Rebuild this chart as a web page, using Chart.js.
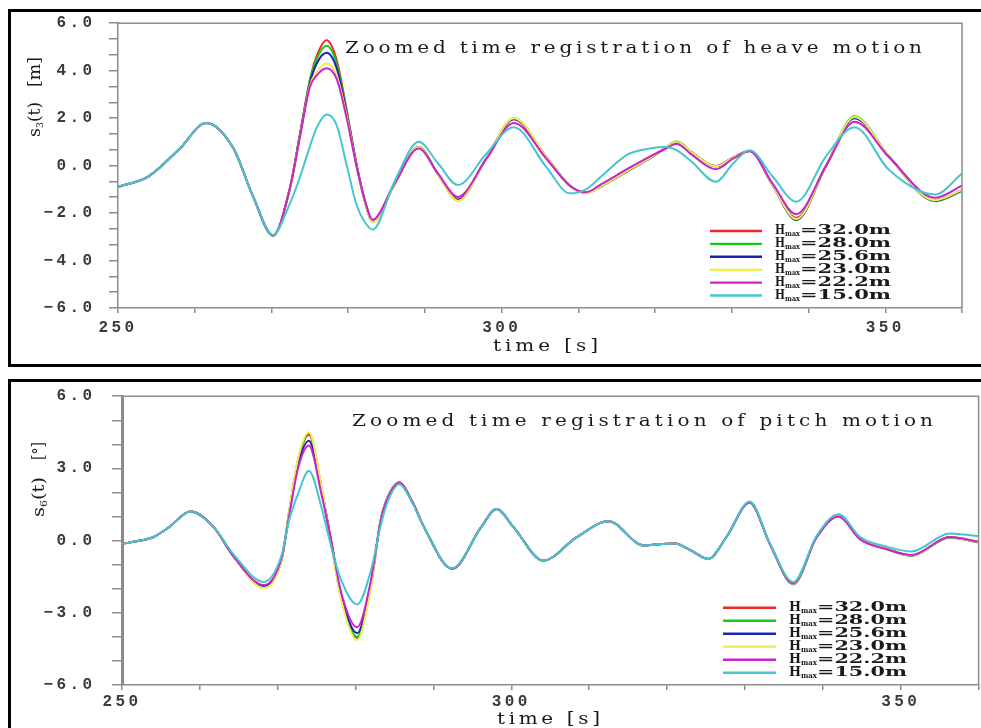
<!DOCTYPE html>
<html><head><meta charset="utf-8">
<script src="https://cdn.jsdelivr.net/npm/chart.js@4.4.1/dist/chart.umd.min.js"></script>
<style>
html,body{margin:0;padding:0;background:#fff;width:981px;height:728px;overflow:hidden;}
.box{position:absolute;border:3px solid #000;box-sizing:border-box;}
#box1{left:8px;top:9px;width:1000px;height:358px;}
#box2{left:8px;top:379px;width:1000px;height:400px;}
canvas{position:absolute;left:0;}
#c1{top:0;}
#c2{top:370px;}
</style></head><body>
<div class="box" id="box1"></div><div class="box" id="box2"></div>
<canvas id="c1" width="981" height="370"></canvas>
<canvas id="c2" width="981" height="370"></canvas>
<script>
// ---------------- DATA ----------------
const SERIES_HMAX = ['32.0', '28.0', '25.6', '23.0', '22.2', '15.0'];

const TIME_TICKS = [250, 260, 270, 280, 290, 300, 310, 320, 330, 340, 350, 360];
const TIME_TICK_LABELS = ['250', '', '', '', '', '300', '', '', '', '', '350', ''];

const HEAVE_Y_TICKS = [-6, -4, -2, 0, 2, 4, 6];
const HEAVE_Y_LABELS = ['\u22126.0', '\u22124.0', '\u22122.0', '0.0', '2.0', '4.0', '6.0'];
const PITCH_Y_TICKS = [-6, -3, 0, 3, 6];
const PITCH_Y_LABELS = ['\u22126.0', '\u22123.0', '0.0', '3.0', '6.0'];

// heave motion s3(t) [m]
const HEAVE_TIME = [250, 254, 258, 261.5, 265, 267.6, 270.2, 272.4, 273.7, 275.0, 275.9, 277.2, 278.5, 279.8, 281.1, 282.2, 283.2, 286, 289.2, 291.7, 294.3, 298, 301.6, 305.8, 308.9, 311, 313, 316.5, 319.3, 321.4, 322.8, 324.8, 327.9, 330.2, 332.3, 335.3, 338.4, 342.3, 346, 350.5, 356.5, 360];
const HEAVE_H320 = [-0.9, -0.45, 0.7, 1.8, 0.75, -1.3, -2.95, -0.96, 1.3, 3.6, 4.62, 5.28, 4.45, 2.35, 0.05, -1.5, -2.32, -0.8, 0.78, -0.35, -1.42, 0.3, 1.95, 0.37, -0.85, -1.15, -0.85, -0.2, 0.31, 0.75, 1.0, 0.55, -0.02, 0.35, 0.62, -0.8, -2.2, 0.0, 2.03, 0.37, -1.45, -1.03];
const HEAVE_H280 = [-0.9, -0.45, 0.7, 1.8, 0.75, -1.3, -2.95, -0.96, 1.3, 3.55, 4.5, 5.05, 4.3, 2.3, 0.02, -1.55, -2.38, -0.82, 0.78, -0.37, -1.48, 0.3, 2.0, 0.38, -0.85, -1.16, -0.87, -0.22, 0.3, 0.76, 1.02, 0.56, -0.03, 0.35, 0.62, -0.82, -2.3, 0.0, 2.08, 0.38, -1.5, -1.08];
const HEAVE_H256 = [-0.9, -0.45, 0.7, 1.8, 0.75, -1.3, -2.95, -0.96, 1.25, 3.45, 4.3, 4.75, 4.1, 2.2, 0.0, -1.52, -2.36, -0.8, 0.78, -0.36, -1.45, 0.3, 1.96, 0.37, -0.85, -1.15, -0.86, -0.21, 0.3, 0.75, 1.0, 0.55, -0.03, 0.35, 0.62, -0.81, -2.28, 0.0, 2.0, 0.37, -1.47, -1.05];
const HEAVE_H230 = [-0.9, -0.45, 0.7, 1.8, 0.75, -1.3, -2.95, -0.96, 1.2, 3.35, 3.95, 4.3, 3.8, 2.1, -0.05, -1.55, -2.38, -0.82, 0.78, -0.37, -1.48, 0.3, 2.0, 0.38, -0.85, -1.16, -0.86, -0.2, 0.31, 0.76, 1.01, 0.55, -0.03, 0.35, 0.62, -0.81, -2.25, 0.0, 2.05, 0.37, -1.46, -1.03];
const HEAVE_H222 = [-0.9, -0.45, 0.7, 1.8, 0.75, -1.3, -2.95, -0.96, 1.18, 3.3, 3.8, 4.1, 3.65, 2.0, -0.05, -1.5, -2.28, -0.78, 0.72, -0.33, -1.32, 0.28, 1.8, 0.3, -0.85, -1.12, -0.78, -0.12, 0.38, 0.72, 0.92, 0.45, -0.15, 0.3, 0.6, -0.75, -2.05, 0.0, 1.85, 0.35, -1.35, -0.85];
const HEAVE_H150 = [-0.9, -0.45, 0.7, 1.8, 0.75, -1.3, -2.92, -1.6, -0.5, 0.8, 1.6, 2.15, 1.7, 0.02, -1.66, -2.4, -2.7, -0.7, 1.0, 0.1, -0.82, 0.5, 1.62, -0.05, -1.17, -1.0, -0.45, 0.48, 0.72, 0.78, 0.65, 0.15, -0.68, 0.1, 0.65, -0.45, -1.52, 0.4, 1.62, -0.19, -1.22, -0.33];

// pitch motion s6(t) [deg]
const PITCH_TIME = [250, 252.3, 254, 256, 258.8, 261.8, 264.4, 268.2, 270.5, 271.5, 272.6, 274.0, 275.6, 276.9, 278.1, 280.2, 282.0, 283.2, 284.1, 285.6, 287.3, 288.8, 292.4, 296.1, 298.1, 300.3, 304.1, 308.4, 312.5, 317, 319, 321, 323, 325.3, 327.6, 330.6, 333.2, 336.2, 339.2, 342.0, 344.8, 348.2, 351.4, 356.3, 360];
const PITCH_H320 = [-0.14, 0.0, 0.14, 0.55, 1.21, 0.55, -0.69, -1.95, -0.78, 1.2, 3.3, 4.4, 2.2, -0.14, -2.3, -4.05, -1.8, 0.83, 1.79, 2.41, 1.6, 0.55, -1.17, 0.55, 1.31, 0.55, -0.83, 0.14, 0.8, -0.2, -0.15, -0.12, -0.4, -0.76, 0.14, 1.58, -0.14, -1.8, 0.14, 1.03, 0.07, -0.34, -0.62, 0.14, -0.07];
const PITCH_H280 = [-0.14, 0.0, 0.14, 0.55, 1.21, 0.55, -0.69, -1.95, -0.78, 1.3, 3.35, 4.48, 2.22, -0.15, -2.3, -4.0, -1.78, 0.83, 1.79, 2.41, 1.6, 0.55, -1.17, 0.55, 1.31, 0.55, -0.83, 0.14, 0.8, -0.2, -0.15, -0.12, -0.4, -0.76, 0.14, 1.58, -0.14, -1.82, 0.14, 1.02, 0.06, -0.35, -0.63, 0.12, -0.08];
const PITCH_H256 = [-0.14, 0.0, 0.14, 0.55, 1.21, 0.55, -0.69, -1.9, -0.76, 1.2, 3.15, 4.15, 2.1, -0.1, -2.2, -3.85, -1.7, 0.8, 1.78, 2.41, 1.6, 0.55, -1.17, 0.55, 1.31, 0.55, -0.83, 0.14, 0.8, -0.2, -0.15, -0.12, -0.4, -0.76, 0.14, 1.58, -0.14, -1.8, 0.14, 1.03, 0.07, -0.34, -0.62, 0.14, -0.07];
const PITCH_H230 = [-0.14, 0.0, 0.14, 0.55, 1.21, 0.55, -0.69, -1.97, -0.8, 1.3, 3.4, 4.5, 2.25, -0.2, -2.4, -4.14, -1.85, 0.83, 1.79, 2.41, 1.6, 0.55, -1.17, 0.55, 1.31, 0.55, -0.83, 0.14, 0.8, -0.2, -0.15, -0.12, -0.4, -0.76, 0.14, 1.58, -0.14, -1.8, 0.14, 1.03, 0.07, -0.34, -0.62, 0.14, -0.07];
const PITCH_H222 = [-0.14, 0.0, 0.14, 0.55, 1.21, 0.55, -0.69, -1.85, -0.7, 1.1, 3.0, 3.95, 1.95, -0.05, -2.1, -3.6, -1.6, 0.8, 1.75, 2.4, 1.6, 0.55, -1.17, 0.55, 1.31, 0.55, -0.83, 0.14, 0.8, -0.2, -0.15, -0.12, -0.4, -0.76, 0.14, 1.58, -0.14, -1.78, 0.14, 1.0, 0.05, -0.36, -0.6, 0.15, -0.05];
const PITCH_H150 = [-0.14, 0.0, 0.14, 0.55, 1.21, 0.55, -0.6, -1.72, -0.6, 0.9, 1.94, 2.9, 1.4, -0.3, -1.6, -2.65, -1.2, 0.6, 1.6, 2.34, 1.55, 0.55, -1.15, 0.55, 1.31, 0.55, -0.83, 0.14, 0.8, -0.2, -0.15, -0.12, -0.4, -0.76, 0.14, 1.62, -0.12, -1.72, 0.2, 1.1, 0.15, -0.25, -0.45, 0.3, 0.18];

// ---------------- STYLE ----------------
const SERIES_COLORS = ['#f02828', '#14cc14', '#1c24b4', '#f2ee5a', '#cc22cc', '#45c6cc'];
const SERIES_ORDER = [5, 4, 3, 2, 1, 0];
const AXIS_COLOR = '#8c8c8c';
const TEXT_COLOR = '#1a1a1a';
const TICK_COLOR = '#3a3a3a';
const MONO = "'Liberation Mono', 'DejaVu Sans Mono', monospace";
const SERIF = "'DejaVu Serif', 'Liberation Serif', serif";

Chart.defaults.font.family = MONO;
Chart.defaults.color = TEXT_COLOR;

function withMinor(majors, sub) {
  const out = [];
  for (let i = 0; i < majors.length; i++) {
    out.push(majors[i]);
    if (i < majors.length - 1) {
      for (let k = 1; k < sub; k++) out.push(majors[i] + (majors[i + 1] - majors[i]) * k / sub);
    }
  }
  return out;
}

function fitText(ctx, text, x, y, w, font) {
  ctx.save();
  ctx.font = font;
  if ('letterSpacing' in ctx) ctx.letterSpacing = '0px';
  const m = ctx.measureText(text).width || 1;
  ctx.translate(x, y);
  ctx.scale(w / m, 1);
  ctx.textAlign = 'left';
  ctx.fillText(text, 0, 0);
  ctx.restore();
}

// glyphs widened by sx, remaining width distributed as letter spacing
function spacedText(ctx, text, x, y, w, font, sx) {
  if (!('letterSpacing' in ctx)) { fitText(ctx, text, x, y, w, font); return; }
  ctx.save();
  ctx.font = font;
  ctx.textAlign = 'left';
  ctx.letterSpacing = '0px';
  const m = ctx.measureText(text).width;
  ctx.translate(x, y);
  ctx.scale(sx, 1);
  ctx.letterSpacing = Math.max(0, (w / sx - m) / (text.length - 1)) + 'px';
  ctx.fillText(text, 0, 0);
  ctx.restore();
}

const decoPlugin = {
  id: 'deco',
  beforeDraw(chart, args, o) {
    if ('letterSpacing' in chart.ctx) chart.ctx.letterSpacing = o.tickSpacing + 'px';
  },
  afterDatasetsDraw(chart, args, o) {
    const ctx = chart.ctx, a = chart.chartArea;
    ctx.save();
    ctx.strokeStyle = AXIS_COLOR;
    ctx.lineWidth = 1.5;
    ctx.beginPath();
    ctx.moveTo(a.left, a.top);
    ctx.lineTo(a.right, a.top);
    ctx.lineTo(a.right, a.bottom);
    ctx.stroke();
    ctx.restore();
  },
  afterDraw(chart, args, o) {
    const ctx = chart.ctx;
    ctx.save();
    if ('letterSpacing' in ctx) ctx.letterSpacing = '0px';
    ctx.fillStyle = TEXT_COLOR;
    ctx.textBaseline = 'middle';
    spacedText(ctx, o.title, o.titleX, o.titleY, o.titleW, o.titleFont, 1.25);
    spacedText(ctx, 'time [s]', o.xTitleX, o.xTitleY, o.xTitleW, o.titleFont, 1.25);

    // rotated y-axis label
    ctx.save();
    ctx.translate(o.yLabX, o.yLabBottom);
    ctx.rotate(-Math.PI / 2);
    fitText(ctx, 's', 0, 0, o.sW, o.yFont);
    fitText(ctx, o.sub, o.sW, 4, o.subW, o.ySubFont);
    fitText(ctx, '(t)', o.sW + o.subW, 0, o.tW, o.yFont);
    fitText(ctx, o.unit, o.unitStart, 0, o.unitW, o.yFont);
    ctx.restore();

    // legend
    chart.data.datasets.forEach((ds, i) => {
      const y = o.legY + i * o.legDy;
      ctx.strokeStyle = ds.borderColor;
      ctx.lineWidth = 2.4;
      ctx.beginPath();
      ctx.moveTo(o.legX1, y);
      ctx.lineTo(o.legX2, y);
      ctx.stroke();
      fitText(ctx, 'H', o.legTX, y, o.legHW, o.legFont);
      fitText(ctx, 'max', o.legTX + o.legHW, y + 3, o.legSubW, o.legSubFont);
      fitText(ctx, '=' + SERIES_HMAX[i] + 'm', o.legTX + o.legHW + o.legSubW, y, o.legRestW, o.legFont);
    });
    ctx.restore();
  }
};

function makeChart(id, panel, times, series, yTicks, yLabels, ySub) {
  const datasets = series.map((vals, i) => ({
    label: 'H_max=' + SERIES_HMAX[i] + 'm',
    data: times.map((t, k) => ({ x: t, y: vals[k] })),
    borderColor: SERIES_COLORS[i],
    backgroundColor: SERIES_COLORS[i],
    borderWidth: 2,
    pointRadius: 0,
    fill: false,
    cubicInterpolationMode: 'monotone',
    order: SERIES_ORDER[i]
  }));
  const labelFor = (v, ticks, labels) => {
    for (let i = 0; i < ticks.length; i++) if (Math.abs(ticks[i] - v) < 1e-6) return labels[i];
    return '';
  };
  const tickFont = { size: 16, family: MONO, weight: 'bold' };
  return new Chart(document.getElementById(id), {
    type: 'line',
    data: { datasets },
    plugins: [decoPlugin],
    options: {
      responsive: false,
      animation: false,
      devicePixelRatio: 1,
      layout: { padding: { left: 0, top: panel.top, right: panel.right, bottom: 0 } },
      plugins: {
        legend: { display: false },
        tooltip: { enabled: false },
        title: { display: false },
        deco: panel.deco
      },
      scales: {
        x: {
          type: 'linear',
          min: 250, max: 360,
          afterFit: s => { s.height = panel.xAxisH; },
          afterBuildTicks: s => { s.ticks = TIME_TICKS.map(v => ({ value: v })); },
          ticks: {
            autoSkip: false, maxRotation: 0,
            padding: panel.xTickPad,
            font: tickFont,
            color: TICK_COLOR,
            callback: v => labelFor(v, TIME_TICKS, TIME_TICK_LABELS)
          },
          grid: { drawOnChartArea: false, drawTicks: true, tickLength: 5, color: AXIS_COLOR, lineWidth: 1.5 },
          border: { display: true, color: AXIS_COLOR, width: 1.5 },
          title: { display: false }
        },
        y: {
          type: 'linear',
          min: -6, max: 6,
          afterFit: s => { s.width = panel.yAxisW; },
          afterBuildTicks: s => { s.ticks = withMinor(yTicks, ySub).map(v => ({ value: v })); },
          ticks: {
            autoSkip: false,
            padding: panel.yTickPad,
            font: tickFont,
            color: TICK_COLOR,
            callback: v => labelFor(v, yTicks, yLabels)
          },
          grid: { drawOnChartArea: false, drawTicks: true, tickLength: panel.yTickLen, color: AXIS_COLOR, lineWidth: 1.5 },
          border: { display: true, color: AXIS_COLOR, width: panel.yBorderW }
        }
      }
    }
  });
}

const HEAVE_PANEL = {
  top: 23, right: 19, yAxisW: 118, xAxisH: 62, xTickPad: 5.4,
  yTickPad: 13.6, yTickLen: 9, yBorderW: 1.5,
  deco: {
    tickSpacing: 3.4,
    title: 'Zoomed time registration of heave motion',
    titleX: 345, titleY: 49, titleW: 577, titleFont: '16px ' + SERIF,
    xTitleX: 493, xTitleY: 347, xTitleW: 105,
    yLabX: 36, yLabBottom: 137, sW: 9, sub: '3', subW: 6, tW: 20, unit: '[m]', unitStart: 50, unitW: 30,
    yFont: '16px ' + SERIF, ySubFont: '10px ' + SERIF,
    legY: 231, legDy: 12.9, legX1: 710, legX2: 762, legTX: 775, legHW: 10, legSubW: 15, legRestW: 91,
    legFont: 'bold 13px ' + SERIF, legSubFont: 'bold 8px ' + SERIF
  }
};
const PITCH_PANEL = {
  top: 24, right: 2, yAxisW: 122, xAxisH: 55, xTickPad: 2.4,
  yTickPad: 16.6, yTickLen: 10, yBorderW: 3,
  deco: {
    tickSpacing: 3.4,
    title: 'Zoomed time registration of pitch motion',
    titleX: 352, titleY: 52, titleW: 581, titleFont: '16px ' + SERIF,
    xTitleX: 497, xTitleY: 350, xTitleW: 103,
    yLabX: 40, yLabBottom: 147, sW: 10, sub: '6', subW: 7, tW: 23, unit: '[\u00b0]', unitStart: 57, unitW: 18,
    yFont: '16px ' + SERIF, ySubFont: '10px ' + SERIF,
    legY: 237.7, legDy: 13, legX1: 723, legX2: 776, legTX: 789, legHW: 12, legSubW: 16, legRestW: 90,
    legFont: 'bold 13px ' + SERIF, legSubFont: 'bold 8px ' + SERIF
  }
};

makeChart('c1', HEAVE_PANEL, HEAVE_TIME,
  [HEAVE_H320, HEAVE_H280, HEAVE_H256, HEAVE_H230, HEAVE_H222, HEAVE_H150],
  HEAVE_Y_TICKS, HEAVE_Y_LABELS, 3);
makeChart('c2', PITCH_PANEL, PITCH_TIME,
  [PITCH_H320, PITCH_H280, PITCH_H256, PITCH_H230, PITCH_H222, PITCH_H150],
  PITCH_Y_TICKS, PITCH_Y_LABELS, 3);
</script></body></html>
